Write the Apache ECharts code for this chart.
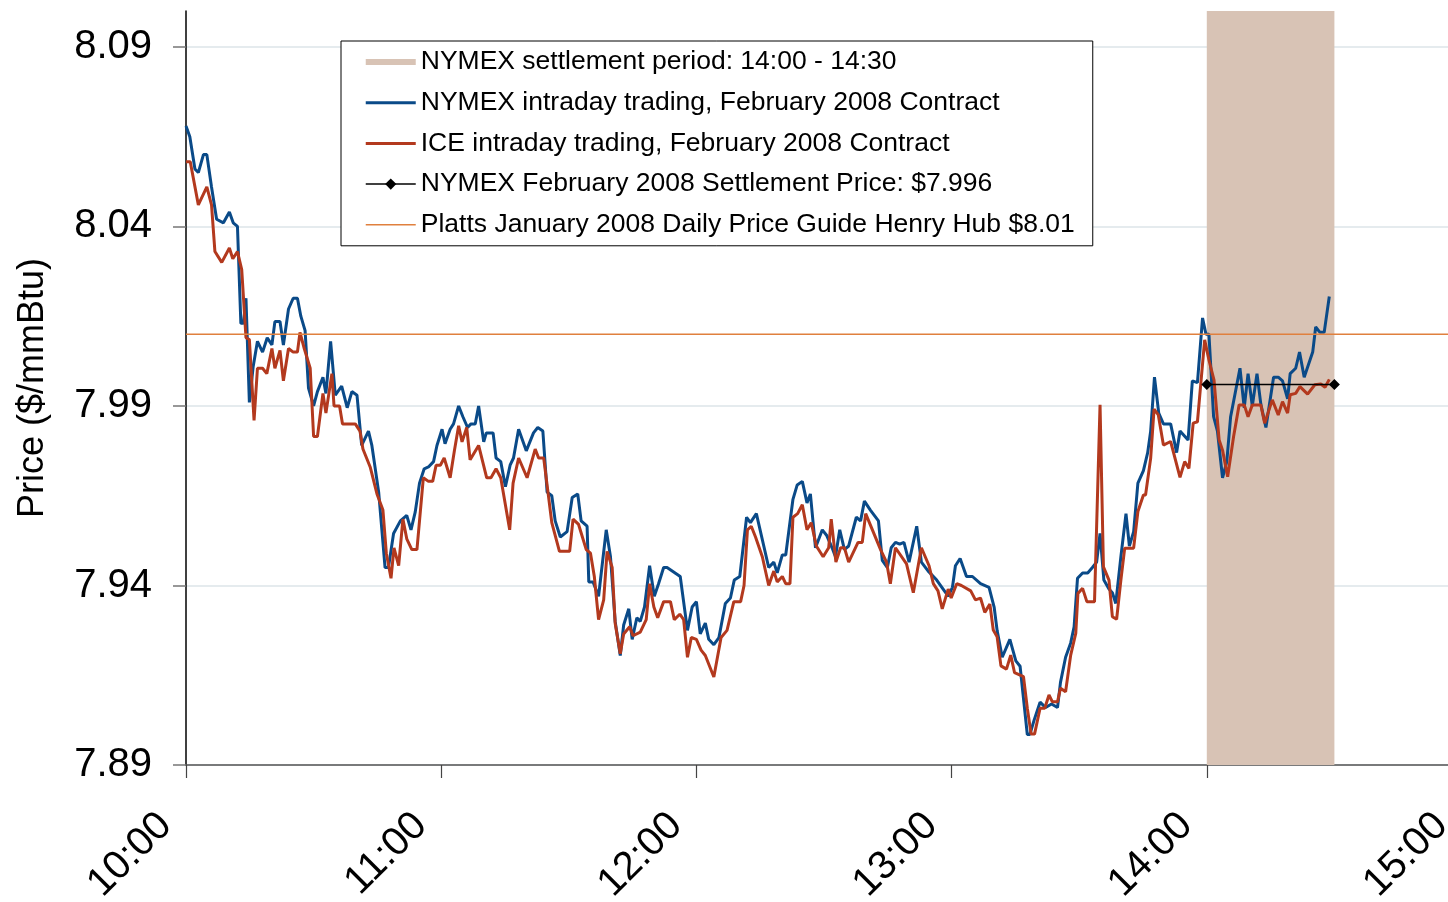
<!DOCTYPE html>
<html>
<head>
<meta charset="utf-8">
<script src="https://cdn.jsdelivr.net/npm/echarts@6/dist/echarts.min.js"></script>
<style>
html,body{margin:0;padding:0;background:#fff;}
#chart{width:1448px;height:902px;}
</style>
</head>
<body>
<div id="chart"></div>
<script>
// x values: minutes after 10:00
const xTickLabels = ['10:00','11:00','12:00','13:00','14:00','15:00'];
const yTickValues = [7.89, 7.94, 7.99, 8.04, 8.09];

const seriesNames = [
  'NYMEX settlement period: 14:00 - 14:30',
  'NYMEX intraday trading, February 2008 Contract',
  'ICE intraday trading, February 2008 Contract',
  'NYMEX February 2008 Settlement Price: $7.996',
  'Platts January 2008 Daily Price Guide Henry Hub $8.01'
];

const settlementPeriod = [240, 270];

const nymexTrades = [
  [0,8.068],[0.9,8.065],[2.1,8.056],[2.9,8.055],[4.1,8.060],[4.9,8.060],[6.0,8.051],[7.2,8.042],[8.8,8.041],[10.2,8.044],
  [11.1,8.041],[12.1,8.040],[12.9,8.013],[13.5,8.013],[14.1,8.020],[14.9,7.991],[15.8,8.001],[16.8,8.008],[18.0,8.005],[19.1,8.009],
  [20.2,8.007],[20.9,8.0135],[22.1,8.0135],[22.9,8.007],[24.1,8.017],[25.2,8.020],[26.2,8.020],[27.0,8.015],[28.0,8.011],[28.8,7.995],
  [30.0,7.990],[30.9,7.994],[32.2,7.998],[32.9,7.9935],[34.0,8.008],[35.1,7.993],[36.6,7.9955],[37.9,7.9895],[39.0,7.994],[40.2,7.993],
  [41.3,7.979],[42.9,7.983],[43.7,7.979],[45.3,7.966],[46.8,7.945],[47.6,7.945],[48.8,7.9545],[50.4,7.958],[51.9,7.9595],[52.9,7.9555],
  [53.9,7.9605],[54.9,7.9685],[56.0,7.9725],[57.0,7.973],[58.2,7.9745],[59.0,7.979],[60.2,7.9835],[60.9,7.9795],[62.1,7.9835],[62.9,7.985],
  [64.1,7.990],[65.1,7.987],[66.2,7.984],[67.0,7.985],[68.0,7.985],[68.8,7.990],[70.0,7.980],[70.6,7.9825],[72.2,7.9825],[72.9,7.9755],
  [74.0,7.9745],[75.1,7.9675],[76.2,7.9735],[77.0,7.9755],[78.2,7.9835],[80.0,7.9775],[81.7,7.9825],[82.7,7.984],[83.9,7.983],[84.9,7.966],
  [86.0,7.965],[86.8,7.958],[88.0,7.9535],[89.6,7.955],[90.8,7.9645],[92.1,7.9655],[92.9,7.958],[94.3,7.9565],[94.7,7.941],[95.7,7.941],
  [97.0,7.937],[98.8,7.9555],[99.8,7.948],[100.9,7.930],[102.1,7.9205],[102.9,7.929],[104.1,7.9335],[104.9,7.925],[106.0,7.931],[106.8,7.930],
  [107.8,7.934],[109.0,7.9455],[110.1,7.937],[111.1,7.9405],[112.3,7.945],[113.1,7.945],[116.2,7.9425],[117.9,7.9275],[119.0,7.934],[120.0,7.9355],
  [120.9,7.9265],[122.1,7.9295],[122.9,7.925],[124.1,7.9235],[125.3,7.9255],[126.8,7.935],[128.0,7.9365],[128.9,7.9415],[130.2,7.9425],[131.8,7.959],
  [132.7,7.9575],[134.1,7.960],[137.0,7.945],[138.2,7.9465],[139.0,7.9435],[140.2,7.9485],[141.0,7.9485],[142.7,7.964],[143.7,7.968],[144.9,7.969],
  [146.0,7.963],[146.8,7.9655],[148.0,7.9505],[149.6,7.9555],[150.6,7.954],[151.9,7.9505],[152.7,7.948],[153.7,7.9555],[154.8,7.950],[155.8,7.951],
  [157.6,7.959],[158.6,7.958],[159.5,7.9635],[160.9,7.961],[162.8,7.958],[163.7,7.947],[164.9,7.945],[165.8,7.9505],[166.8,7.952],[167.8,7.9515],
  [168.8,7.952],[170.0,7.9465],[171.8,7.9565],[172.9,7.9465],[174.5,7.944],[176.5,7.9415],[178.3,7.9385],[179.2,7.937],[180.2,7.9395],[180.9,7.9455],
  [182.0,7.9475],[183.5,7.9425],[184.9,7.9425],[186.8,7.9405],[188.8,7.9395],[190.0,7.934],[190.7,7.9275],[191.9,7.920],[193.7,7.925],[195.1,7.919],
  [196.1,7.9175],[197.8,7.8985],[198.4,7.8985],[199.4,7.9025],[200.8,7.9075],[202.1,7.906],[203.5,7.907],[204.9,7.906],[205.6,7.913],[206.8,7.920],
  [208.0,7.924],[208.8,7.9285],[209.6,7.942],[210.8,7.9435],[212.0,7.9435],[213.1,7.945],[214.1,7.9465],[214.9,7.9545],[215.8,7.9415],[217.0,7.939],
  [217.8,7.938],[218.6,7.935],[219.8,7.948],[221.0,7.960],[221.8,7.951],[222.8,7.955],[223.8,7.9685],[225.1,7.972],[226.1,7.977],[226.8,7.983],
  [227.7,7.998],[228.7,7.988],[229.8,7.985],[231.5,7.985],[232.9,7.977],[233.7,7.983],[235.6,7.9805],[236.6,7.997],[237.8,7.9965],[239.0,8.0145],
  [239.8,8.010],[240.5,8.010],[240.9,8.0105],[241.6,7.987],[242.5,7.983],[243.7,7.970],[244.7,7.9745],[245.6,7.987],[247.8,8.0005],[248.8,7.9895],
  [249.7,7.999],[250.7,7.990],[251.8,7.999],[252.7,7.9905],[253.9,7.984],[255.7,7.998],[256.8,7.998],[257.8,7.997],[259.0,7.992],[259.6,7.999],
  [260.9,8.0005],[261.8,8.005],[262.9,7.998],[264.9,8.005],[265.6,8.012],[266.6,8.0105],[267.6,8.0105],[268.8,8.0205]
];

const iceTrades = [
  [0,8.058],[1.0,8.058],[2.9,8.046],[4.9,8.051],[6.0,8.046],[6.8,8.033],[8.4,8.030],[10.2,8.034],[11.0,8.031],[12.1,8.033],
  [13.1,8.028],[14.1,8.009],[14.9,8.0085],[16.0,7.986],[16.8,8.0005],[18.0,8.0005],[19.0,7.999],[20.2,8.006],[20.9,8.0005],[22.1,8.0055],
  [22.9,7.997],[24.1,8.006],[25.2,8.005],[26.2,8.005],[26.8,8.0105],[27.8,8.006],[29.2,8.0005],[30.0,7.9815],[30.9,7.9815],[32.2,7.9935],
  [32.9,7.988],[34.3,7.999],[34.8,7.990],[36.1,7.990],[36.8,7.985],[39.8,7.985],[40.9,7.983],[41.6,7.978],[43.3,7.973],[44.9,7.9655],
  [46.3,7.961],[47.1,7.949],[48.2,7.942],[48.9,7.9505],[50.0,7.9455],[51.0,7.9585],[51.9,7.953],[53.1,7.950],[54.3,7.950],[55.8,7.970],
  [57.0,7.969],[58.0,7.969],[58.8,7.9735],[59.8,7.9735],[60.7,7.9755],[62.1,7.970],[63.1,7.9775],[64.1,7.9845],[64.9,7.980],[66.0,7.984],
  [66.8,7.975],[68.8,7.979],[70.7,7.970],[71.7,7.970],[72.9,7.9725],[74.0,7.970],[76.1,7.9555],[76.9,7.9685],[78.2,7.9755],[80.2,7.970],
  [82.1,7.978],[82.9,7.9755],[84.1,7.9755],[86.0,7.9575],[87.8,7.9495],[90.2,7.9495],[91.0,7.9585],[92.3,7.957],[94.1,7.950],[95.1,7.949],
  [96.0,7.9425],[97.0,7.9305],[98.2,7.936],[99.0,7.9495],[100.2,7.945],[100.9,7.9295],[102.1,7.921],[102.9,7.9265],[104.3,7.9285],[105.1,7.926],
  [106.8,7.927],[108.2,7.9305],[109.0,7.9405],[110.0,7.934],[110.9,7.931],[112.3,7.9355],[113.9,7.9355],[114.8,7.9305],[116.1,7.932],[117.0,7.9305],
  [117.9,7.920],[118.8,7.9255],[120.0,7.925],[121.1,7.922],[122.1,7.9205],[124.1,7.9145],[125.8,7.9255],[127.2,7.9275],[128.8,7.9355],[130.4,7.9355],
  [131.2,7.940],[132.0,7.9555],[132.9,7.9565],[133.9,7.9535],[135.5,7.948],[137.0,7.940],[138.2,7.944],[139.0,7.941],[140.2,7.9425],[141.0,7.9405],
  [142.0,7.9405],[142.7,7.959],[143.8,7.960],[144.9,7.9625],[146.0,7.9555],[147.0,7.9575],[148.2,7.951],[149.8,7.948],[151.1,7.9505],[151.7,7.9585],
  [152.8,7.9465],[153.9,7.9505],[154.8,7.9505],[155.8,7.9465],[158.0,7.952],[159.0,7.952],[159.8,7.960],[163.3,7.950],[164.7,7.9465],[165.6,7.9405],
  [166.8,7.9505],[169.4,7.946],[171.0,7.938],[172.9,7.9505],[174.7,7.9455],[175.7,7.9405],[176.8,7.9385],[177.8,7.9335],[179.2,7.939],[179.9,7.9365],
  [181.2,7.9405],[182.3,7.940],[184.5,7.9385],[185.6,7.936],[186.8,7.9365],[187.8,7.9325],[189.0,7.9348],[189.8,7.9276],[190.7,7.9257],[191.6,7.9176],
  [192.9,7.9167],[193.9,7.9206],[194.8,7.9157],[196.9,7.9146],[197.8,7.9058],[198.7,7.8986],[199.5,7.8986],[200.8,7.9058],[201.9,7.9058],[202.9,7.9095],
  [203.7,7.9076],[204.9,7.9076],[205.6,7.9114],[206.8,7.9104],[208.0,7.9206],[209.2,7.9267],[209.7,7.9378],[210.8,7.9392],[211.8,7.9355],[213.6,7.9355],
  [214.9,7.9903],[215.7,7.9452],[217.0,7.9415],[217.8,7.9313],[218.8,7.9306],[219.8,7.9415],[220.7,7.9504],[222.8,7.9504],[223.8,7.9606],[225.1,7.9652],
  [225.6,7.9652],[226.8,7.9754],[227.6,7.9891],[228.6,7.9875],[229.8,7.9791],[231.5,7.9801],[233.7,7.9701],[234.8,7.9745],[235.8,7.9726],[236.8,7.9852],
  [237.8,7.9856],[239.5,8.0084],[240.5,8.0028],[241.7,7.9972],[242.9,7.9805],[243.7,7.9777],[244.9,7.9703],[246.3,7.9815],[247.6,7.9903],[248.8,7.9903],
  [249.7,7.987],[250.7,7.9903],[252.7,7.9903],[253.6,7.9852],[255.4,7.9917],[256.8,7.9875],[257.8,7.9912],[259.0,7.988],[259.6,7.9931],[260.9,7.9935],
  [261.9,7.9954],[263.7,7.9933],[265.4,7.9959],[266.8,7.9961],[267.8,7.9952],[268.8,7.9974]
];

const settlementPrice = [[240, 7.996], [270, 7.996]];
const plattsPrice = [[0, 8.01], [300, 8.01]];

const colors = {
  band: '#d8c3b5',
  nymex: '#0a4a88',
  ice: '#b3391e',
  settle: '#000000',
  platts: '#e0803e'
};

function barIcon(h) {
  return 'path://M0,0H50V' + h + 'H0Z';
}

const font = '"Liberation Sans", Arial, sans-serif';
const chart = echarts.init(document.getElementById('chart'), null, {renderer: 'canvas'});

chart.setOption({
  animation: false,
  backgroundColor: '#ffffff',
  textStyle: {fontFamily: font},
  grid: {left: 186, top: 11, right: -14, bottom: 137, containLabel: false, outerBoundsMode: 'none'},
  legend: {
    orient: 'vertical',
    left: 341,
    top: 41,
    padding: [6, 18, 6, 24],
    itemGap: 10.7,
    itemWidth: 50,
    itemHeight: 14,
    itemTextGap: 5,
    symbolKeepAspect: true,
    backgroundColor: '#ffffff',
    borderColor: '#000000',
    borderWidth: 1,
    selectedMode: false,
    textStyle: {fontFamily: font, fontSize: 26.5, color: '#000', lineHeight: 30},
    data: [
      {name: seriesNames[0], icon: barIcon(6), itemStyle: {color: colors.band, borderWidth: 0}},
      {name: seriesNames[1], icon: barIcon(3), itemStyle: {color: colors.nymex, borderWidth: 0}},
      {name: seriesNames[2], icon: barIcon(3), itemStyle: {color: colors.ice, borderWidth: 0}},
      {name: seriesNames[3], lineStyle: {width: 1.5, color: colors.settle}},
      {name: seriesNames[4], icon: barIcon(1.5), itemStyle: {color: colors.platts, borderWidth: 0}}
    ]
  },
  xAxis: {
    type: 'value',
    min: 0,
    max: 300,
    interval: 60,
    axisLine: {show: true, onZero: false, lineStyle: {color: '#555', width: 1.5}},
    axisTick: {show: true, length: 13, lineStyle: {color: '#444', width: 1.2}},
    splitLine: {show: false},
    axisLabel: {
      rotate: 45,
      fontSize: 40,
      color: '#000',
      fontFamily: font,
      margin: 34,
      padding: [0, 29, 0, 0],
      showMinLabel: true,
      showMaxLabel: true,
      formatter: function (v) { return xTickLabels[Math.round(v / 60)]; }
    }
  },
  yAxis: {
    type: 'value',
    min: 7.89,
    max: 8.10,
    name: 'Price ($/mmBtu)',
    nameLocation: 'middle',
    nameGap: 135,
    nameTextStyle: {fontSize: 36, color: '#000', fontFamily: font},
    axisLine: {show: true, lineStyle: {color: '#000', width: 1.5}},
    axisTick: {show: true, length: 13, customValues: yTickValues, lineStyle: {color: '#777', width: 1.5}},
    splitLine: {show: true, lineStyle: {color: '#dde5e8', width: 1.5}},
    axisLabel: {
      customValues: yTickValues,
      fontSize: 40,
      color: '#000',
      fontFamily: font,
      margin: 34,
      verticalAlign: 'middle',
      lineHeight: 40,
      padding: [7, 0, 0, 0],
      formatter: function (v) { return v.toFixed(2); }
    }
  },
  series: [
    {
      name: seriesNames[0],
      type: 'line',
      z: 1,
      symbol: 'none',
      data: [],
      lineStyle: {color: colors.band, width: 7},
      itemStyle: {color: colors.band},
      markArea: {
        silent: true,
        itemStyle: {color: colors.band, opacity: 1},
        data: [[{xAxis: settlementPeriod[0]}, {xAxis: settlementPeriod[1]}]]
      }
    },
    {
      name: seriesNames[1],
      type: 'line',
      z: 3,
      symbol: 'none',
      data: nymexTrades,
      lineStyle: {color: colors.nymex, width: 3},
      itemStyle: {color: colors.nymex}
    },
    {
      name: seriesNames[2],
      type: 'line',
      z: 4,
      symbol: 'none',
      data: iceTrades,
      lineStyle: {color: colors.ice, width: 3},
      itemStyle: {color: colors.ice}
    },
    {
      name: seriesNames[3],
      type: 'line',
      z: 5,
      symbol: 'diamond',
      symbolSize: 11,
      showSymbol: true,
      data: settlementPrice,
      lineStyle: {color: colors.settle, width: 1.5},
      itemStyle: {color: colors.settle}
    },
    {
      name: seriesNames[4],
      type: 'line',
      z: 5,
      symbol: 'none',
      data: plattsPrice,
      lineStyle: {color: colors.platts, width: 1.5},
      itemStyle: {color: colors.platts}
    }
  ]
});
</script>
</body>
</html>
